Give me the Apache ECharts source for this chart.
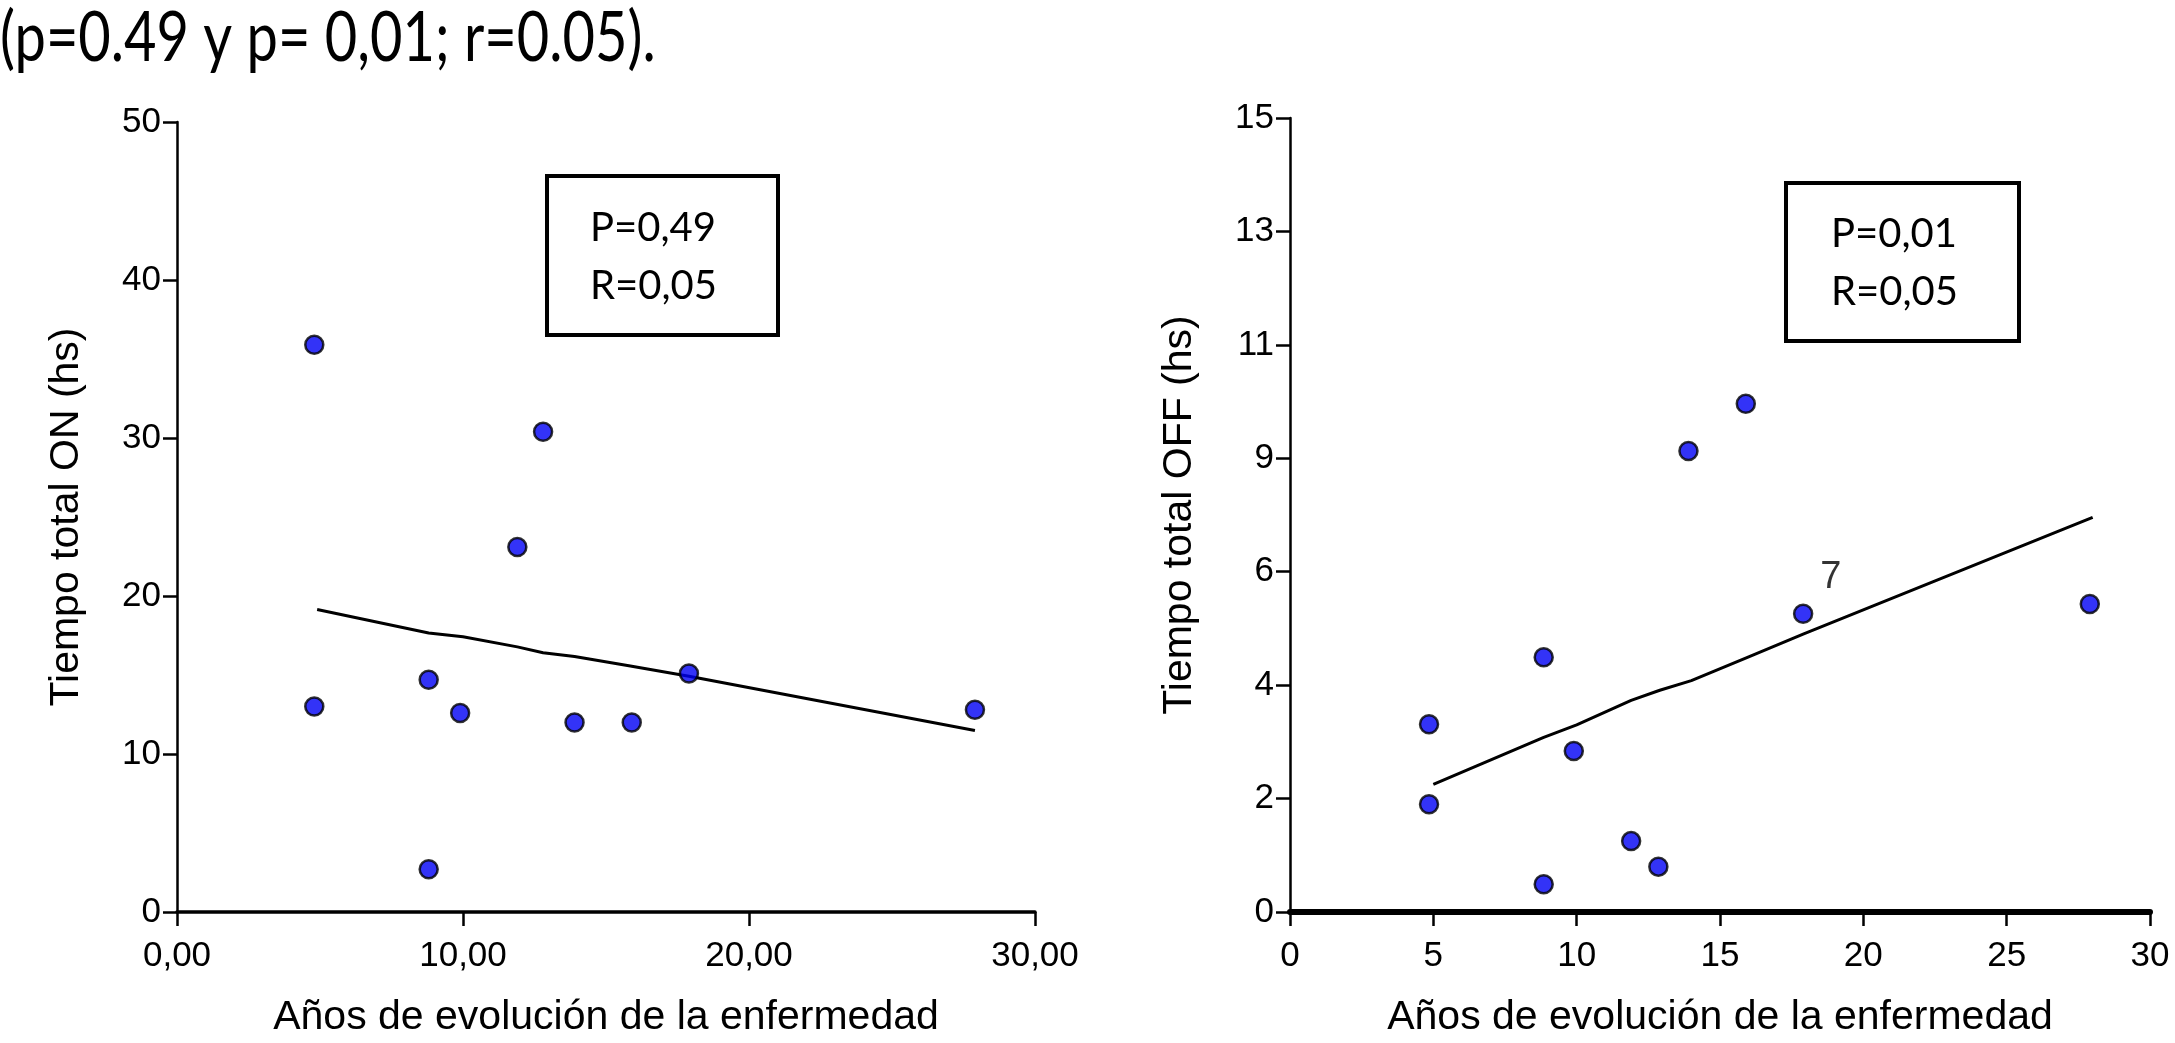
<!DOCTYPE html>
<html><head><meta charset="utf-8">
<script src="https://cdn.jsdelivr.net/npm/echarts/dist/echarts.min.js"></script>
<style>html,body{margin:0;padding:0;background:#fff}#c{width:2175px;height:1043px}</style>
</head><body><div id="c"></div>
<script>
// ---- text ----
const headline = '(p=0.49 y p= 0,01; r=0.05).';
const xName = 'Años de evolución de la enfermedad';
const onYName = 'Tiempo total ON (hs)';
const offYName = 'Tiempo total OFF (hs)';
const onStats = ['P=0,49', 'R=0,05'];
const offStats = ['P=0,01', 'R=0,05'];

// ---- tick labels ----
const onXTicks = ['0,00', '10,00', '20,00', '30,00'];
const onYTicks = ['0', '10', '20', '30', '40', '50'];
const offXTicks = ['0', '5', '10', '15', '20', '25', '30'];
const offYTicks = ['0', '2', '4', '6', '9', '11', '13', '15'];

// ---- left panel: tiempo total ON ----
const onYears = [4.8, 4.8, 8.8, 8.8, 9.9, 11.9, 12.8, 13.9, 15.9, 17.9, 27.9];
const onHours = [35.9, 13.0, 14.7, 2.7, 12.6, 23.1, 30.4, 12.0, 12.0, 15.1, 12.8];
const onFitYears = [4.9, 8.8, 10.0, 11.9, 12.8, 13.9, 15.8, 17.9, 27.9];
const onFitHours = [19.15, 17.66, 17.42, 16.78, 16.41, 16.17, 15.59, 14.92, 11.49];

// ---- right panel: tiempo total OFF (positions on the evenly spaced tick scale) ----
const offYears = [4.85, 4.85, 8.85, 8.85, 9.9, 11.9, 12.85, 13.9, 15.9, 17.9, 27.9];
const offHours = [3.31, 1.90, 4.49, 0.49, 2.84, 1.25, 0.80, 8.13, 8.96, 5.26, 5.43];
const offPointLabels = ['', '', '', '', '', '', '', '', '', '7', ''];
const offFitYears = [5.0, 8.85, 10.0, 11.9, 12.9, 14.0, 16.0, 17.9, 28.0];
const offFitHours = [2.25, 3.08, 3.30, 3.73, 3.91, 4.08, 4.50, 4.90, 6.96];

const zip = (a, b) => a.map((v, i) => [v, b[i]]);
const AX = 'Liberation Sans';
const TX = 'Lato';

function axisBase(extra) {
  return Object.assign({
    type: 'value',
    splitLine: { show: false },
    axisLine: { show: true, onZero: false, lineStyle: { color: '#000', width: 2.5 } },
    axisTick: { show: true, inside: false, length: 14, lineStyle: { color: '#000', width: 2.5 } },
    nameTextStyle: { color: '#000', fontSize: 41, fontFamily: AX },
    nameLocation: 'middle'
  }, extra);
}
function lab(margin, fmt) {
  return { color: '#000', fontSize: 35, fontFamily: AX, margin: margin, formatter: fmt };
}

const dotStyle = { color: '#0000f5', borderColor: '#000', borderWidth: 2.5 };

const chart = echarts.init(document.getElementById('c'), null, { renderer: 'canvas' });
chart.setOption({
  animation: false,
  backgroundColor: '#fff',
  grid: [
    { left: 177, width: 858, top: 122, bottom: 121 },
    { left: 1290, width: 860, top: 118, bottom: 125 }
  ],
  xAxis: [
    axisBase({
      gridIndex: 0, min: 0, max: 30, interval: 10, name: xName, nameGap: 85,
      axisLine: { show: true, onZero: false, lineStyle: { color: '#000', width: 3.5 } },
      axisLabel: lab(27, v => onXTicks[Math.round(v / 10)])
    }),
    axisBase({
      gridIndex: 1, min: 0, max: 30, interval: 5, name: xName, nameGap: 85,
      axisLine: { show: true, onZero: false, lineStyle: { color: '#000', width: 6 } },
      axisLabel: lab(27, v => offXTicks[Math.round(v / 5)])
    })
  ],
  yAxis: [
    axisBase({
      gridIndex: 0, min: 0, max: 50, interval: 10, name: onYName, nameGap: 90,
      axisLabel: lab(16, v => onYTicks[Math.round(v / 10)])
    }),
    axisBase({
      gridIndex: 1, min: 0, max: 14, interval: 2, name: offYName, nameGap: 90,
      axisLabel: lab(16, v => offYTicks[Math.round(v / 2)])
    })
  ],
  series: [
    { type: 'line', xAxisIndex: 0, yAxisIndex: 0, data: zip(onFitYears, onFitHours),
      showSymbol: false, symbol: 'none', lineStyle: { color: '#000', width: 3 }, z: 2, silent: true },
    { type: 'scatter', xAxisIndex: 0, yAxisIndex: 0, data: zip(onYears, onHours),
      symbolSize: 18, itemStyle: dotStyle, z: 3 },
    { type: 'line', xAxisIndex: 1, yAxisIndex: 1, data: zip(offFitYears, offFitHours),
      showSymbol: false, symbol: 'none', lineStyle: { color: '#000', width: 3 }, z: 2, silent: true },
    { type: 'scatter', xAxisIndex: 1, yAxisIndex: 1,
      data: zip(offYears, offHours).map((p, i) => offPointLabels[i] ? {
        value: p,
        label: { show: true, formatter: offPointLabels[i], position: [38, -26],
          align: 'center', verticalAlign: 'middle',
          color: '#000', fontSize: 38, fontFamily: AX }
      } : p),
      symbolSize: 18, itemStyle: dotStyle, z: 3 }
  ],
  graphic: [
    { type: 'text', x: 0, y: 38, scaleY: 1.25,
      style: { text: headline, fill: '#000', font: '56px ' + TX, verticalAlign: 'middle' } },
    { type: 'rect', shape: { x: 547, y: 176, width: 231, height: 159 },
      style: { fill: 'none', stroke: '#000', lineWidth: 4 } },
    { type: 'text', x: 590, y: 228, style: { text: onStats[0], fill: '#000', font: '40px ' + TX, verticalAlign: 'middle' } },
    { type: 'text', x: 590, y: 286, style: { text: onStats[1], fill: '#000', font: '40px ' + TX, verticalAlign: 'middle' } },
    { type: 'rect', shape: { x: 1786, y: 183, width: 233, height: 158 },
      style: { fill: 'none', stroke: '#000', lineWidth: 4 } },
    { type: 'text', x: 1831, y: 234, style: { text: offStats[0], fill: '#000', font: '40px ' + TX, verticalAlign: 'middle' } },
    { type: 'text', x: 1831, y: 292, style: { text: offStats[1], fill: '#000', font: '40px ' + TX, verticalAlign: 'middle' } }
  ]
});
</script>
</body></html>
